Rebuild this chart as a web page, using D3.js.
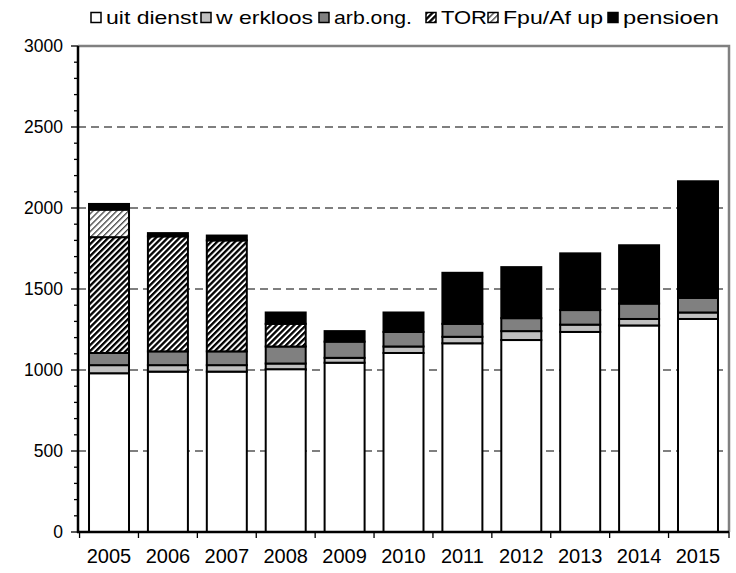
<!DOCTYPE html>
<html>
<head>
<meta charset="utf-8">
<script src="https://cdn.jsdelivr.net/npm/d3@7"></script>
<style>
  body { margin: 0; background: #fff; }
  svg { display: block; font-family: "Liberation Sans", Arial, sans-serif; }
</style>
</head>
<body>
<svg id="chart" width="736" height="573"></svg>
<script>
// Stacked staff numbers per year, by category
const years = ["2005","2006","2007","2008","2009","2010","2011","2012","2013","2014","2015"];
const seriesKeys = ["uitDienst","werkloos","arbOng","tor","fpu","pensioen"];
const seriesLabels = ["uit dienst","w erkloos","arb.ong.","TOR","Fpu/Af up","pensioen"];
const uitDienst = [980, 990, 990, 1005, 1045, 1105, 1165, 1185, 1235, 1275, 1315];
const werkloos  = [ 50,  40,  40,   35,   30,   40,   40,   55,   45,   40,   40];
const arbOng    = [ 75,  85,  85,  105,  100,   90,   80,   80,   90,   95,   90];
const tor       = [715, 710, 685,  140,    0,    0,    0,    0,    0,    0,    0];
const fpu       = [170,   0,   0,    0,    0,    0,    0,    0,    0,    0,    0];
const pensioen  = [ 35,  20,  30,   70,   65,  120,  315,  315,  350,  360,  720];
const yTicks = [0, 500, 1000, 1500, 2000, 2500, 3000];

const seriesValues = [uitDienst, werkloos, arbOng, tor, fpu, pensioen];
const rows = years.map((yr, i) => {
  const r = { year: yr };
  seriesKeys.forEach((k, j) => r[k] = seriesValues[j][i]);
  return r;
});

const svg = d3.select("#chart");
const plotLeft = 78, plotRight = 729, plotTop = 46, plotBottom = 532;

const x = d3.scaleBand().domain(years).range([plotLeft, plotRight])
  .paddingInner(0.321).paddingOuter(0.187);
const y = d3.scaleLinear().domain([0, 3000]).range([plotBottom, plotTop]);

// Hatch patterns
const defs = svg.append("defs");
const torPat = defs.append("pattern").attr("id", "hatchTor")
  .attr("patternUnits", "userSpaceOnUse").attr("width", 4.2).attr("height", 4.2)
  .attr("patternTransform", "rotate(45)");
torPat.append("rect").attr("width", 4.2).attr("height", 4.2).attr("fill", "#fff");
torPat.append("rect").attr("width", 2.3).attr("height", 4.2).attr("fill", "#000");

const fpuPat = defs.append("pattern").attr("id", "hatchFpu")
  .attr("patternUnits", "userSpaceOnUse").attr("width", 4.2).attr("height", 4.2)
  .attr("patternTransform", "rotate(45)");
fpuPat.append("rect").attr("width", 4.2).attr("height", 4.2).attr("fill", "#fff");
fpuPat.append("rect").attr("width", 1.3).attr("height", 4.2).attr("fill", "#444");

const fills = {
  uitDienst: "#ffffff",
  werkloos: "#c0c0c0",
  arbOng: "#808080",
  tor: "url(#hatchTor)",
  fpu: "url(#hatchFpu)",
  pensioen: "#000000"
};

// Gridlines
svg.append("g").selectAll("line")
  .data(yTicks.filter(t => t > 0 && t < 3000))
  .join("line")
  .attr("x1", plotLeft).attr("x2", plotRight)
  .attr("y1", d => y(d)).attr("y2", d => y(d))
  .attr("stroke", "#555").attr("stroke-width", 1.5)
  .attr("stroke-dasharray", "8,5");

// Plot frame (top and right)
svg.append("path")
  .attr("d", `M${plotLeft},${plotTop}H${plotRight}V${plotBottom}`)
  .attr("fill", "none").attr("stroke", "#808080").attr("stroke-width", 2.5);

// Stacked bars
const stacked = d3.stack().keys(seriesKeys)(rows);
svg.append("g").selectAll("g")
  .data(stacked)
  .join("g")
  .attr("fill", d => fills[d.key])
  .selectAll("rect")
  .data(d => d.filter(p => p[1] - p[0] > 0))
  .join("rect")
  .attr("x", d => x(d.data.year))
  .attr("width", x.bandwidth())
  .attr("y", d => y(d[1]))
  .attr("height", d => y(d[0]) - y(d[1]))
  .attr("stroke", "#000").attr("stroke-width", 2);

// Y axis
const yAxis = svg.append("g").attr("transform", `translate(${plotLeft},0)`);
yAxis.append("g").selectAll("line")
  .data(d3.range(0, 3001, 100))
  .join("line")
  .attr("x1", d => d % 500 === 0 ? -7 : -4).attr("x2", 0)
  .attr("y1", d => y(d)).attr("y2", d => y(d))
  .attr("stroke", "#000").attr("stroke-width", 1.3);
yAxis.append("line").attr("x1", 0).attr("x2", 0)
  .attr("y1", plotTop).attr("y2", plotBottom + 1)
  .attr("stroke", "#000").attr("stroke-width", 2.5);
yAxis.append("g").selectAll("text")
  .data(yTicks)
  .join("text")
  .attr("x", -15).attr("y", d => y(d))
  .attr("dy", "0.36em")
  .attr("text-anchor", "end")
  .attr("font-size", 17.5)
  .attr("fill", "#000")
  .text(d => d);

// X axis
const xAxis = svg.append("g");
xAxis.append("line").attr("x1", plotLeft - 1).attr("x2", plotRight)
  .attr("y1", plotBottom).attr("y2", plotBottom)
  .attr("stroke", "#000").attr("stroke-width", 2.5);
const boundaries = years.map(d => x(d) - x.step() * x.paddingInner() / 2).concat([plotRight]);
xAxis.append("g").selectAll("line")
  .data(boundaries)
  .join("line")
  .attr("x1", d => d).attr("x2", d => d)
  .attr("y1", plotBottom).attr("y2", plotBottom + 6)
  .attr("stroke", "#000").attr("stroke-width", 1.3);
xAxis.append("g").selectAll("text")
  .data(years)
  .join("text")
  .attr("x", d => x(d) + x.bandwidth() / 2)
  .attr("y", 563)
  .attr("text-anchor", "middle")
  .attr("font-size", 20)
  .attr("fill", "#000")
  .text(d => d);

// Legend
const legendX = [91, 201, 319, 426, 488, 608];
const legendTextLen = [92, 97, 78, 46, 100, 96];
const legend = svg.append("g");
seriesKeys.forEach((k, i) => {
  const g = legend.append("g").attr("transform", `translate(${legendX[i]},0)`);
  g.append("rect").attr("x", 0).attr("y", 12.5).attr("width", 10).attr("height", 10)
    .attr("fill", fills[k]).attr("stroke", "#000").attr("stroke-width", 1.5);
  g.append("text").attr("x", 15).attr("y", 24)
    .attr("font-size", 19).attr("fill", "#000")
    .attr("textLength", legendTextLen[i])
    .attr("lengthAdjust", "spacingAndGlyphs")
    .text(seriesLabels[i]);
});
</script>
</body>
</html>
